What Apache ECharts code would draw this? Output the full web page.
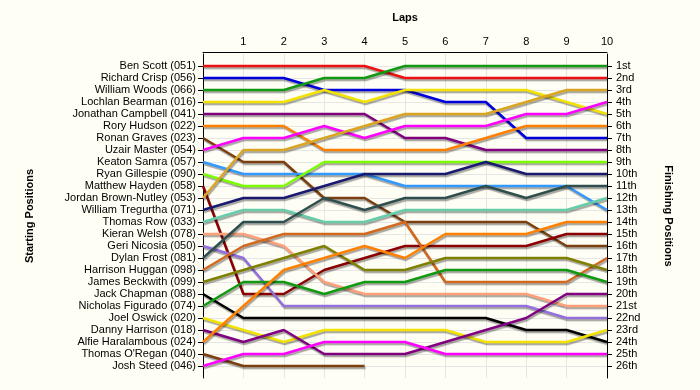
<!DOCTYPE html>
<html>
<head>
<meta charset="utf-8">
<script src="https://cdn.jsdelivr.net/npm/echarts@6/dist/echarts.min.js"></script>
<style>
html,body{margin:0;padding:0;background:#fefef4;}
#chart{width:700px;height:390px;}
</style>
</head>
<body>
<div id="chart"></div>
<script>
const laps = [0,1,2,3,4,5,6,7,8,9,10];
const lapLabels = ['', '1','2','3','4','5','6','7','8','9','10'];
const startNames = [
  'Ben Scott (051)','Richard Crisp (056)','William Woods (066)','Lochlan Bearman (016)',
  'Jonathan Campbell (041)','Rory Hudson (022)','Ronan Graves (023)','Uzair Master (054)',
  'Keaton Samra (057)','Ryan Gillespie (090)','Matthew Hayden (058)','Jordan Brown-Nutley (053)',
  'William Tregurtha (071)','Thomas Row (033)','Kieran Welsh (078)','Geri Nicosia (050)',
  'Dylan Frost (081)','Harrison Huggan (098)','James Beckwith (099)','Jack Chapman (088)',
  'Nicholas Figurado (074)','Joel Oswick (020)','Danny Harrison (018)','Alfie Haralambous (024)',
  "Thomas O'Regan (040)",'Josh Steed (046)'
];
const finishLabels = ['1st','2nd','3rd','4th','5th','6th','7th','8th','9th','10th','11th','12th','13th',
  '14th','15th','16th','17th','18th','19th','20th','21st','22nd','23rd','24th','25th','26th'];
// positions per lap (lap 0..10), same order as startNames
const positions = [
  [1,1,1,1,1,2,2,2,2,2,2],
  [2,2,2,3,3,3,4,4,7,7,7],
  [3,3,3,2,2,1,1,1,1,1,1],
  [4,4,4,3,4,3,3,3,3,4,5],
  [5,5,5,5,5,7,7,8,8,8,8],
  [6,6,6,8,8,8,8,7,6,6,6],
  [7,9,9,12,12,14,14,14,14,16,16],
  [8,7,7,6,7,6,6,6,5,5,4],
  [9,10,10,10,10,11,11,11,11,11,13],
  [10,11,11,9,9,9,9,9,9,9,9],
  [11,20,20,18,17,16,16,16,16,15,15],
  [12,8,8,7,6,5,5,5,4,3,3],
  [13,12,12,11,10,10,10,9,10,10,10],
  [14,13,13,14,14,13,13,13,13,13,12],
  [15,15,16,19,20,20,20,20,20,21,21],
  [16,17,21,21,21,21,21,21,21,22,22],
  [17,14,14,12,13,12,12,11,12,11,11],
  [18,16,15,15,15,14,19,19,19,19,17],
  [19,18,17,16,18,18,17,17,17,17,18],
  [20,22,22,22,22,22,22,22,23,23,24],
  [21,19,19,20,19,19,18,18,18,18,19],
  [22,23,24,23,23,23,23,24,24,24,23],
  [23,24,23,25,25,25,24,23,22,20,20],
  [24,21,18,17,16,17,15,15,15,14,14],
  [25,26,26,26,26,null,null,null,null,null,null],
  [26,25,25,24,24,24,25,25,25,25,25]
];
const colors = ['#ee1111','#0000dd','#119911','#f2e200','#800080','#ff8000','#7b3f10','#ff00ff',
  '#3399ff','#7cfc00','#8b0000','#daa520','#191970','#66cdaa','#ffa07a','#9370db','#2f4f4f',
  '#d2691e','#808000','#000000','#119911','#f2e200','#800080','#ff8000','#7b3f10','#ff00ff'];

const font = 'Liberation Sans, Arial, sans-serif';
const leftCats = [''].concat(startNames, ['']);
const rightCats = [''].concat(finishLabels, ['']);
const inner = (i) => i > 0 && i < 27;

const chart = echarts.init(document.getElementById('chart'), null, {renderer:'canvas'});
chart.setOption({
  animation: false,
  backgroundColor: '#fefef4',
  grid: {left: 203, right: 93, top: 54, bottom: 12},
  textStyle: {fontFamily: font},
  xAxis: {
    type: 'value', position: 'top', min: 0, max: 10, interval: 1, offset: 2,
    name: 'Laps', nameLocation: 'middle', nameGap: 29,
    nameTextStyle: {fontWeight: 'bold', fontSize: 11, color: '#000', fontFamily: font},
    axisLine: {show: true, lineStyle: {color: '#000', width: 1}},
    axisTick: {show: false},
    axisLabel: {fontSize: 11, color: '#000', margin: 5, fontFamily: font,
      formatter: (v) => lapLabels[v] || ''},
    splitLine: {show: true, lineStyle: {color: '#e6e6e6', width: 1}}
  },
  yAxis: [
    {
      type: 'category', data: leftCats, inverse: true, boundaryGap: false, position: 'left',
      name: 'Starting Positions', nameLocation: 'middle', nameRotate: 90, nameGap: 168,
      nameTextStyle: {fontWeight: 'bold', fontSize: 11, color: '#000', fontFamily: font},
      axisLine: {show: true, lineStyle: {color: '#000', width: 1}},
      axisTick: {show: true, length: 5, interval: (i) => inner(i), lineStyle: {color: '#000'}},
      axisLabel: {fontSize: 11, color: '#000', margin: 7, interval: 0, fontFamily: font},
      splitLine: {show: true, interval: (i) => inner(i), lineStyle: {color: '#e6e6e6', width: 1}}
    },
    {
      type: 'category', data: rightCats, inverse: true, boundaryGap: false, position: 'right',
      name: 'Finishing Positions', nameLocation: 'middle', nameRotate: -90, nameGap: 56,
      nameTextStyle: {fontWeight: 'bold', fontSize: 11, color: '#000', fontFamily: font},
      axisLine: {show: true, lineStyle: {color: '#000', width: 1}},
      axisTick: {show: true, length: 5, interval: (i) => inner(i), lineStyle: {color: '#000'}},
      axisLabel: {fontSize: 11, color: '#000', margin: 9, interval: 0, fontFamily: font},
      splitLine: {show: false}
    }
  ],
  series: startNames.map((name, k) => ({
    name: name,
    type: 'line',
    yAxisIndex: 0,
    symbol: 'none',
    connectNulls: false,
    z: 2 + k * 0.01,
    lineStyle: {color: colors[k], width: 2.5,
      shadowColor: 'rgba(0,0,0,0.35)', shadowBlur: 1, shadowOffsetX: 1, shadowOffsetY: 2},
    data: laps.map((l, i) => positions[k][i] == null ? [l, null] : [l, positions[k][i]])
  }))
});
</script>
</body>
</html>
